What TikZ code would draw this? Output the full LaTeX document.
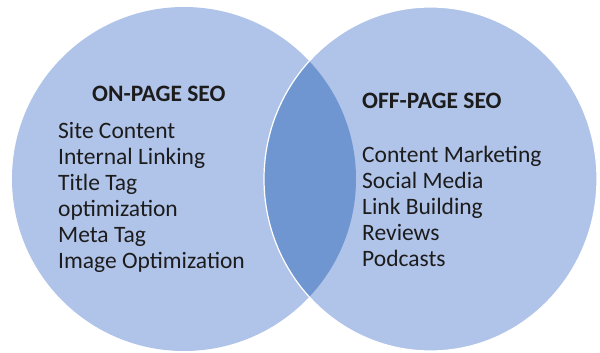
\documentclass[tikz,border=0pt]{standalone}
\usepackage{fontspec}
\setmainfont{Carlito}
\definecolor{lightfill}{RGB}{176,195,233}
\definecolor{lensfill}{RGB}{112,150,209}
\definecolor{txt}{RGB}{28,28,28}
\begin{document}
\begin{tikzpicture}[x=1pt,y=-1pt,
  title/.style={anchor=base west,inner sep=0pt,font=\fontsize{23.5}{26}\selectfont\bfseries,text=txt},
  item/.style={anchor=base west,inner sep=0pt,font=\fontsize{23.5}{26}\selectfont,text=txt}]
\useasboundingbox (0,0) rectangle (600,353);
\fill[lightfill] (184,179) ellipse [x radius=172, y radius=172];
\fill[lightfill] (430.5,179) ellipse [x radius=166.5, y radius=172];
\begin{scope}
  \clip (184,179) ellipse [x radius=172, y radius=172];
  \fill[lensfill] (430.5,179) ellipse [x radius=166.5, y radius=172];
\end{scope}
\draw[white,line width=1.2pt] (430.5,179) ellipse [x radius=166.5, y radius=172];
\node[title] (on) at (92,102) {ON-PAGE SEO};
\node[item] (l1) at (58,138) {Site Content};
\node[item] (l2) at (58,164) {Internal Linking};
\node[item] (l3) at (58,190) {Title Tag};
\node[item] (l4) at (58,216) {optimization};
\node[item] (l5) at (58,242) {Meta Tag};
\node[item] (l6) at (58,268) {Image Optimization};
\node[title] (off) at (362,108) {OFF-PAGE SEO};
\node[item] (r1) at (362,162) {Content Marketing};
\node[item] (r2) at (362,188) {Social Media};
\node[item] (r3) at (362,214) {Link Building};
\node[item] (r4) at (362,240) {Reviews};
\node[item] (r5) at (362,266) {Podcasts};
\end{tikzpicture}
\end{document}
